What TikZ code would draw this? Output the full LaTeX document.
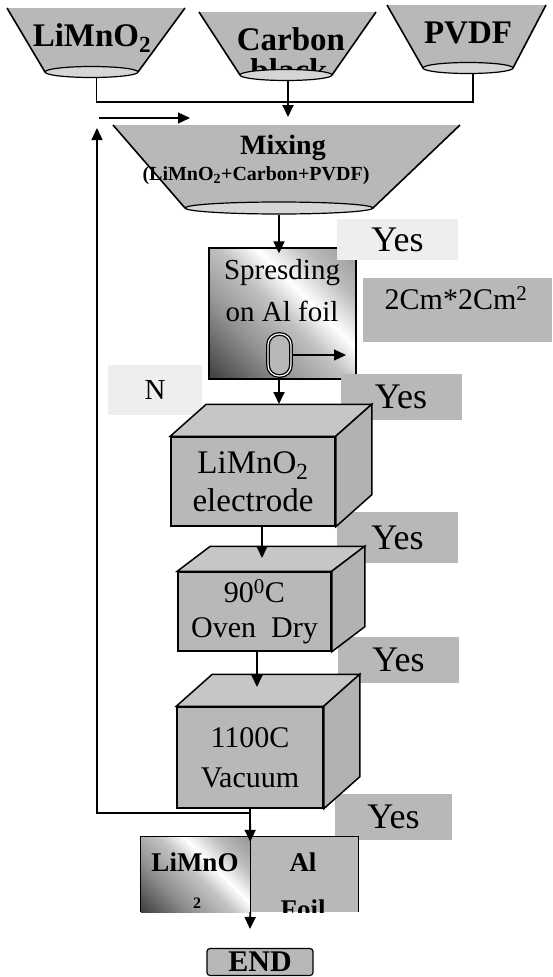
\documentclass[tikz,border=0pt]{standalone}
\usepackage{fontspec}
\setmainfont{Liberation Serif}
\usepackage{tikz}
\usetikzlibrary{arrows.meta,calc,positioning,shapes.geometric}
\definecolor{boxgray}{RGB}{184,184,184}
\definecolor{topgray}{RGB}{198,198,198}
\definecolor{sidegray}{RGB}{178,178,178}
\definecolor{bowlgray}{RGB}{214,214,214}
\definecolor{palegray}{RGB}{238,238,238}
\pgfdeclareverticalshading{foilshade}{100bp}{color(0bp)=(black!95); color(15bp)=(black!75); color(35bp)=(black!42); color(50bp)=(black!24); color(60bp)=(white); color(72bp)=(black!26); color(100bp)=(black!58)}

% top and side faces of a box drawn behind its front node
\newcommand{\cubefaces}[3]{%
  \filldraw[cubeface, fill=topgray] (#1.north west) -- ++(#2,#3) -- ([shift={(#2,#3)}]#1.north east) -- (#1.north east) -- cycle;
  \filldraw[cubeface, fill=sidegray] (#1.north east) -- ([shift={(#2,#3)}]#1.north east) -- ([shift={(#2,#3)}]#1.south east) -- (#1.south east) -- cycle;}

\begin{document}
\begin{tikzpicture}[x=1pt, y=-1pt, >={Triangle[length=12pt,width=11pt]}, line join=miter,
  every node/.style={inner sep=0pt},
  flow/.style={line width=1.8pt, ->},
  wire/.style={line width=1.6pt},
  hopper/.style={fill=boxgray},
  bowl/.style={ellipse, draw, line width=1.2pt, fill=bowlgray},
  bigtxt/.style={font=\bfseries\fontsize{33}{36}\selectfont},
  mixtxt/.style={font=\bfseries\fontsize{20}{22}\selectfont},
  midtxt/.style={font=\fontsize{29}{42}\selectfont, align=center},
  boldtxt/.style={font=\bfseries\fontsize{27}{29}\selectfont},
  cubefront/.style={draw, line width=1.5pt, fill=boxgray, align=center},
  cubeface/.style={draw, line width=1.5pt},
  yesbox/.style={fill=boxgray, minimum width=121pt, minimum height=46pt, font=\fontsize{36}{38}\selectfont},
  foilbox/.style={shade, shading=foilshade, shading angle=-45},
  capsule/.style={draw, line width=1.3pt, double=white, double distance=1.2pt, fill=boxgray, rounded corners=11pt, minimum width=23pt, minimum height=42pt}]
  \useasboundingbox (0,0) rectangle (552,977);

  % raw material hoppers
  \fill[hopper] (7,8) -- (185,8) -- (138,72) -- (45,72) -- cycle;
  \draw[wire] (7,8) -- (45,72) (185,8) -- (138,72);
  \node[bigtxt] (limtxt) at (92,38) {LiMnO\textsubscript{2}};
  \node[bowl, minimum width=93pt, minimum height=11pt] (limbowl) at (91.5,72) {};

  \fill[hopper] (199,12) -- (376,12) -- (332,75) -- (240,75) -- cycle;
  \draw[wire] (199,12) -- (240,75) (376,12) -- (332,75);
  \begin{scope}
    \clip (199,12) -- (376,12) -- (332,75) -- (240,75) -- cycle;
    \node[bigtxt, anchor=base] (cartxt) at (291,50) {Carbon};
    \node[bigtxt, anchor=base] (blacktxt) at (289,81) {black};
  \end{scope}
  \node[bowl, minimum width=92pt, minimum height=11pt] (carbowl) at (286,75) {};

  \fill[hopper] (387,5) -- (546,5) -- (513,68) -- (423,68) -- cycle;
  \draw[wire] (387,5) -- (423,68) (546,5) -- (513,68);
  \node[bigtxt] (pvdtxt) at (468,33) {PVDF};
  \node[bowl, minimum width=90pt, minimum height=11pt] (pvdbowl) at (468,68) {};

  \coordinate (joint) at (288,102);
  \coordinate (mixtop) at (288,117);
  \draw[wire] ([xshift=5pt]limbowl.south) |- (joint) -| ([xshift=5pt]pvdbowl.south);
  \draw[flow] (carbowl.south -| mixtop) -- (mixtop);

  % mixing hopper
  \fill[hopper] (113,125) -- (460,125) -- (373,208) -- (185,208) -- cycle;
  \node[font=\bfseries\fontsize{28}{30}\selectfont] (mixhead) at (283,148) {Mixing};
  \node[mixtxt] (mixlist) at (256,176) {(LiMnO\textsubscript{2}+Carbon+PVDF)};
  \draw[wire] (113,125) -- (185,208) (460,125) -- (373,208);
  \node[bowl, minimum width=188pt, minimum height=12pt] (mixbowl) at (279,208) {};

  \coordinate (loopin) at (99,118);
  \coordinate (mixentry) at (190,118);
  \draw[flow, line width=1.3pt] (loopin) -- (mixentry);

  % spreading on foil
  \node[foilbox, draw, line width=1.3pt, minimum width=147pt, minimum height=131pt] (spread) at (282.5,313.5) {};
  \node[midtxt] (spreadtxt) at (282,291) {Spresding\\on Al foil};
  \node[capsule] (cap) at (279.5,355) {};
  \coordinate (capout) at (346,355);
  \draw[flow, line width=1.3pt] (cap.east) -- (capout);
  \draw[flow] (mixbowl.south) -- ([yshift=-6pt]mixbowl.south |- spread.north);

  % labels at the right
  \node[yesbox, fill=palegray, minimum height=41pt] (yes1) at (397.5,239.5) {Yes};
  \node[fill=boxgray, minimum width=189pt, minimum height=64pt] (dimbox) at (457.5,310) {};
  \node[font=\fontsize{30}{32}\selectfont] (dimtxt) at (456,298) {2Cm*2Cm\textsuperscript{2}};
  \node[yesbox] (yes2) at (401,396.5) {Yes};
  \node[yesbox, minimum height=51pt] (yes3) at (397.5,537.5) {Yes};
  \node[yesbox] (yes4) at (398.5,660) {Yes};
  \node[yesbox, minimum width=117pt] (yes5) at (393.5,816.5) {Yes};
  \node[fill=palegray, minimum width=94pt, minimum height=50pt, font=\fontsize{29}{31}\selectfont] (nlabel) at (155,390) {N};

  % process boxes
  \node[cubefront, minimum width=164pt, minimum height=89pt, font=\fontsize{33}{38}\selectfont] (elec) at (253,481.5) {LiMnO\textsubscript{2}\\electrode};
  \cubefaces{elec}{36}{-32}
  \node[cubefront, minimum width=153pt, minimum height=79pt, font=\fontsize{30}{35}\selectfont] (oven) at (254.5,611.5) {90\textsuperscript{0}C\\Oven\ \ Dry};
  \cubefaces{oven}{33}{-25}
  \node[cubefront, minimum width=146pt, minimum height=101pt, font=\fontsize{30}{40}\selectfont] (vac) at (250,757.5) {1100C\\Vacuum};
  \cubefaces{vac}{36}{-32}

  \coordinate (electop) at (279,404);
  \coordinate (oventop) at (262,558);
  \coordinate (vactop) at (257,687);
  \draw[flow] (electop |- spread.south) -- (electop);
  \draw[flow] (oventop |- elec.south) -- (oventop);
  \draw[flow] (vactop |- oven.south) -- (vactop);

  % result
  \node[foilbox, minimum width=109pt, minimum height=75pt] (limno) at (195.5,874.5) {};
  \node[fill=boxgray, minimum width=108pt, minimum height=75pt] (alfoil) at (304,874.5) {};
  \begin{scope}
    \clip (limno.south west) rectangle (alfoil.north east);
    \node[boldtxt] (limnotxt) at (195,862) {LiMnO};
    \node[font=\bfseries\fontsize{16}{18}\selectfont] (limnosub) at (197,903) {2};
    \node[boldtxt] (altxt) at (303,862) {Al};
    \node[boldtxt] (foiltxt) at (303,909) {Foil};
  \end{scope}
  \draw[line width=1.2pt] (limno.south west) |- (alfoil.north east) -- (alfoil.south east);
  \draw[line width=1.2pt] (limno.north east) -- (limno.south east);

  \coordinate (loopstart) at (250,813);
  \coordinate (looptop) at (97,128);
  \draw[flow] (vac.south) -- ([yshift=-5pt]limno.north east);
  \draw[flow, line width=1.3pt] (loopstart) -| (looptop);

  \node[draw, line width=1.2pt, fill=boxgray, rounded corners=3pt, minimum width=106pt, minimum height=27pt, font=\bfseries\fontsize{30}{32}\selectfont] (finish) at (260,962) {END};
  \coordinate (endtop) at (250,929);
  \draw[flow] (limno.south east) -- (endtop);
\end{tikzpicture}
\end{document}
